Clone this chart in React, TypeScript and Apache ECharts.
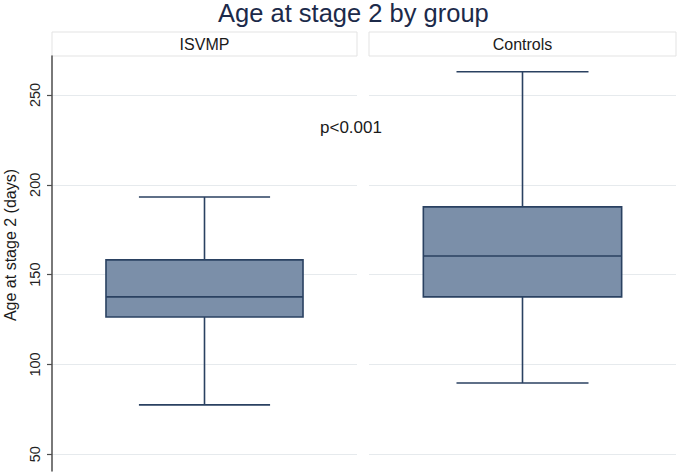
import React, { useEffect, useRef } from "react";
import * as echarts from "echarts";

const groups = ["ISVMP", "Controls"];
const lowWhisker = [77.5, 89.7];
const lowerQuartile = [126.4, 137.6];
const medians = [137.6, 160.4];
const upperQuartile = [158.2, 187.7];
const highWhisker = [193.2, 262.9];
const yTicks = [50, 100, 150, 200, 250];
const Y_MIN = 40.7;
const Y_MAX = 271.7;
const TITLE = "Age at stage 2 by group";
const Y_TITLE = "Age at stage 2 (days)";
const P_TEXT = "p<0.001";

const FONT = "'Liberation Sans', Arial, Helvetica, sans-serif";
const FILL = "#7b8fa9";
const STROKE = "#2a4161";
const GRID_COLOR = "#e6eaed";

const panels = [
  { left: 52, width: 305 },
  { left: 369, width: 307 },
];
const PLOT_TOP = 56;
const PLOT_HEIGHT = 415;

export default function App() {
  const ref = useRef<HTMLDivElement>(null);

  useEffect(() => {
    if (!ref.current) return;
    const chart = echarts.init(ref.current, undefined, { renderer: "svg" });

    const renderBox = (params: any, api: any) => {
      const c = api.value(0);
      const lo = api.coord([c, api.value(1)]);
      const a = api.coord([c, api.value(2)]);
      const m = api.coord([c, api.value(3)]);
      const b = api.coord([c, api.value(4)]);
      const hi = api.coord([c, api.value(5)]);
      const band = api.size([1, 0])[0];
      const bw = band * 0.646;
      const cw = band * 0.43;
      const cx = m[0];
      const ls = { stroke: STROKE, lineWidth: 1.6 };
      return {
        type: "group",
        children: [
          { type: "line", shape: { x1: cx, y1: hi[1], x2: cx, y2: b[1] }, style: ls },
          { type: "line", shape: { x1: cx, y1: a[1], x2: cx, y2: lo[1] }, style: ls },
          { type: "line", shape: { x1: cx - cw / 2, y1: hi[1], x2: cx + cw / 2, y2: hi[1] }, style: ls },
          { type: "line", shape: { x1: cx - cw / 2, y1: lo[1], x2: cx + cw / 2, y2: lo[1] }, style: ls },
          {
            type: "rect",
            shape: { x: cx - bw / 2, y: b[1], width: bw, height: a[1] - b[1] },
            style: { fill: FILL, stroke: STROKE, lineWidth: 1.6 },
          },
          { type: "line", shape: { x1: cx - bw / 2, y1: m[1], x2: cx + bw / 2, y2: m[1] }, style: ls },
        ],
      };
    };

    const option: any = {
      animation: false,
      backgroundColor: "#ffffff",
      title: {
        text: TITLE,
        left: 218,
        top: 0,
        padding: 0,
        textStyle: { fontFamily: FONT, fontSize: 25.5, fontWeight: "normal", color: "#1c2a4a" },
      },
      grid: panels.map((p) => ({
        left: p.left,
        width: p.width,
        top: PLOT_TOP,
        height: PLOT_HEIGHT,
        containLabel: false,
      })),
      xAxis: panels.map((_, i) => ({
        type: "category",
        gridIndex: i,
        data: [groups[i]],
        axisLine: { show: false },
        axisTick: { show: false },
        axisLabel: { show: false },
        splitLine: { show: false },
      })),
      yAxis: panels.map((_, i) => ({
        type: "value",
        gridIndex: i,
        min: Y_MIN,
        max: Y_MAX,
        axisLine: { show: i === 0, lineStyle: { color: "#4d4d4d", width: 1.5 } },
        axisTick: {
          show: i === 0,
          customValues: yTicks,
          length: 5,
          lineStyle: { color: "#4d4d4d", width: 1.2 },
        },
        axisLabel: {
          show: i === 0,
          customValues: yTicks,
          rotate: 90,
          margin: 10,
          fontFamily: FONT,
          fontSize: 14.5,
          color: "#222222",
        },
        splitLine: { show: true, lineStyle: { color: GRID_COLOR, width: 1 } },
      })),
      series: panels.map((_, i) => ({
        type: "custom",
        xAxisIndex: i,
        yAxisIndex: i,
        renderItem: renderBox,
        data: [[0, lowWhisker[i], lowerQuartile[i], medians[i], upperQuartile[i], highWhisker[i]]],
      })),
      graphic: [
        ...panels.flatMap((p, i) => [
          {
            type: "rect",
            shape: { x: p.left, y: 32, width: p.width, height: 24 },
            style: { fill: "#ffffff", stroke: "#e3e3e3", lineWidth: 1 },
          },
          {
            type: "text",
            x: p.left + p.width / 2,
            y: 44,
            style: {
              text: groups[i],
              fontFamily: FONT,
              fontSize: 16,
              fill: "#1a1a1a",
              textAlign: "center",
              textVerticalAlign: "middle",
            },
          },
        ]),
        {
          type: "text",
          x: 10,
          y: 245,
          rotation: Math.PI / 2,
          style: {
            text: Y_TITLE,
            fontFamily: FONT,
            fontSize: 16,
            fill: "#1a1a1a",
            textAlign: "center",
            textVerticalAlign: "middle",
          },
        },
        {
          type: "text",
          x: 320,
          y: 127,
          style: {
            text: P_TEXT,
            fontFamily: FONT,
            fontSize: 17,
            fill: "#1a1a1a",
            textAlign: "left",
            textVerticalAlign: "middle",
          },
        },
      ],
    };

    chart.setOption(option);
    return () => chart.dispose();
  }, []);

  return (
    <div
      ref={ref}
      style={{ position: "fixed", left: 0, top: 0, width: 685, height: 472 }}
    />
  );
}
